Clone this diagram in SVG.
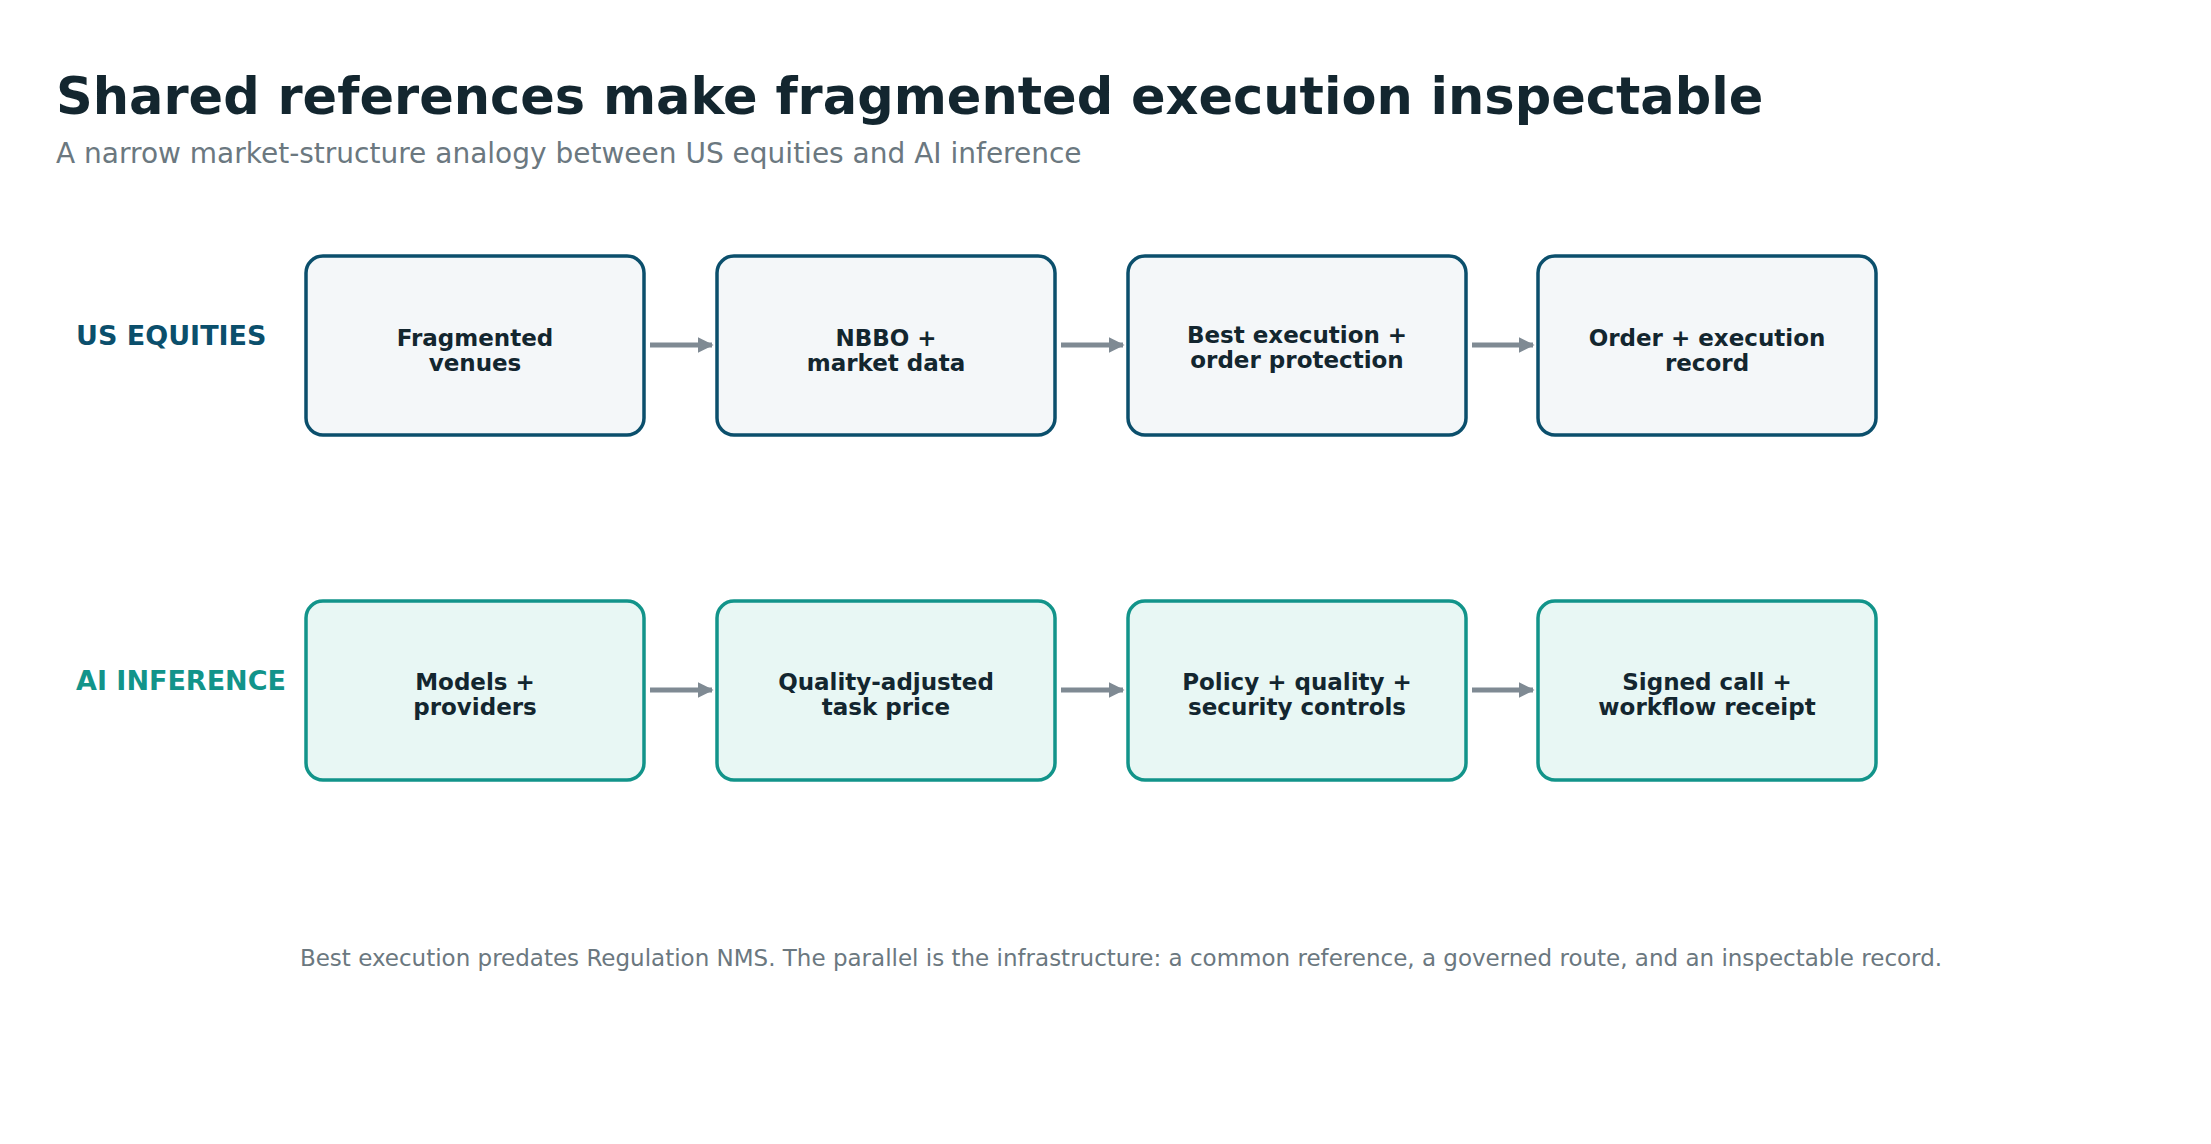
<svg xmlns="http://www.w3.org/2000/svg" width="2211" height="1144" viewBox="0 0 2211 1144">
<style>
text{font-family:"DejaVu Sans",sans-serif}
.title{font-size:51px;font-weight:bold;fill:#13262f}
.sub{font-size:28px;fill:#6b7880}
.lab{font-size:27px;font-weight:bold}
.eq rect{fill:#f4f7f9;stroke:#0b4f6c;stroke-width:3.5}
.ai rect{fill:#e8f7f4;stroke:#12948a;stroke-width:3.5}
.nt{font-size:23px;font-weight:bold;fill:#13262f;text-anchor:middle}
.conn line{stroke:#7f8a93;stroke-width:5;marker-end:url(#ah)}
.foot{font-size:23px;fill:#6b7880;text-anchor:middle}
</style>
<defs><marker id="ah" viewBox="0 0 10 10" refX="9" refY="5" markerWidth="3.2" markerHeight="3.2" orient="auto" markerUnits="strokeWidth"><path d="M0,0L10,5L0,10z" fill="#7f8a93"/></marker></defs>
<rect width="2211" height="1144" fill="#fff"/>
<text class="title" x="56" y="114">Shared references make fragmented execution inspectable</text>
<text class="sub" x="56" y="163">A narrow market-structure analogy between US equities and AI inference</text>
<text class="lab" x="76" y="345" fill="#0b4f6c">US EQUITIES</text>
<text class="lab" x="76" y="690" fill="#12948a">AI INFERENCE</text>
<g class="conn">
<line x1="650" y1="345" x2="712" y2="345"/><line x1="1061" y1="345" x2="1123" y2="345"/><line x1="1472" y1="345" x2="1533" y2="345"/>
<line x1="650" y1="690" x2="712" y2="690"/><line x1="1061" y1="690" x2="1123" y2="690"/><line x1="1472" y1="690" x2="1533" y2="690"/>
</g>
<g id="e1" class="eq"><rect x="306" y="256" width="338" height="179" rx="17"/><text class="nt" x="475" y="346">Fragmented</text><text class="nt" x="475" y="371">venues</text></g>
<g id="e2" class="eq"><rect x="717" y="256" width="338" height="179" rx="17"/><text class="nt" x="886" y="346">NBBO +</text><text class="nt" x="886" y="371">market data</text></g>
<g id="e3" class="eq"><rect x="1128" y="256" width="338" height="179" rx="17"/><text class="nt" x="1297" y="343">Best execution +</text><text class="nt" x="1297" y="368">order protection</text></g>
<g id="e4" class="eq"><rect x="1538" y="256" width="338" height="179" rx="17"/><text class="nt" x="1707" y="346">Order + execution</text><text class="nt" x="1707" y="371">record</text></g>
<g id="a1" class="ai"><rect x="306" y="601" width="338" height="179" rx="17"/><text class="nt" x="475" y="690">Models +</text><text class="nt" x="475" y="715">providers</text></g>
<g id="a2" class="ai"><rect x="717" y="601" width="338" height="179" rx="17"/><text class="nt" x="886" y="690">Quality-adjusted</text><text class="nt" x="886" y="715">task price</text></g>
<g id="a3" class="ai"><rect x="1128" y="601" width="338" height="179" rx="17"/><text class="nt" x="1297" y="690">Policy + quality +</text><text class="nt" x="1297" y="715">security controls</text></g>
<g id="a4" class="ai"><rect x="1538" y="601" width="338" height="179" rx="17"/><text class="nt" x="1707" y="690">Signed call +</text><text class="nt" x="1707" y="715">workflow receipt</text></g>
<text class="foot" x="1121" y="966">Best execution predates Regulation NMS. The parallel is the infrastructure: a common reference, a governed route, and an inspectable record.</text>
</svg>
